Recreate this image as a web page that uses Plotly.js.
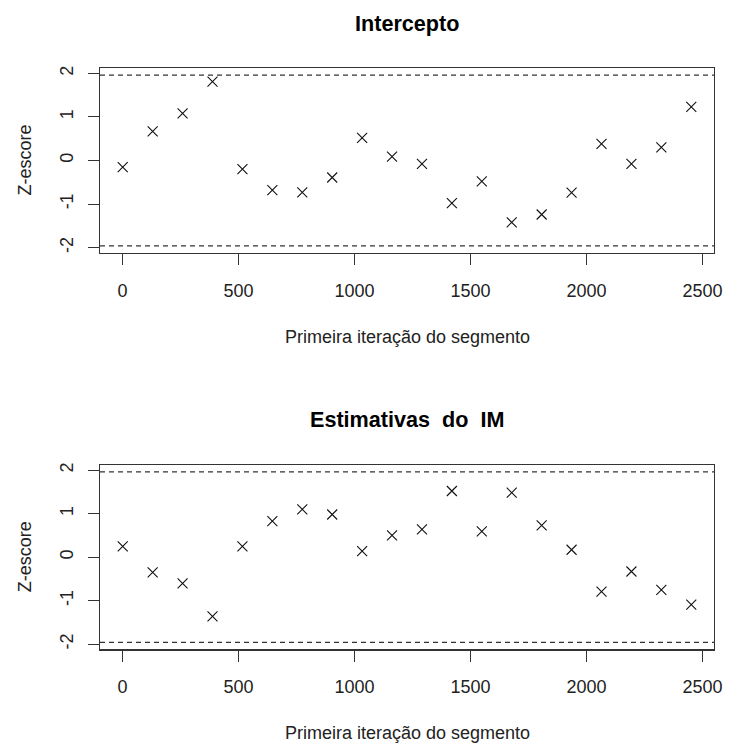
<!DOCTYPE html>
<html>
<head>
<meta charset="utf-8">
<script src="https://cdn.plot.ly/plotly-3.0.1.min.js"></script>
<style>
  html, body { margin: 0; padding: 0; background: #fff; }
  #chart { width: 729px; height: 746px; }
</style>
</head>
<body>
<div id="chart"></div>
<script>
// First iteration of each segment (Geweke diagnostic, 20 bins)
const iterations = [1, 130, 259, 388, 517, 646, 775, 904, 1033, 1162,
                    1291, 1420, 1549, 1678, 1807, 1936, 2065, 2194, 2323, 2452];

// Z-scores for the intercept
const zIntercept = [-0.15, 0.67, 1.08, 1.81, -0.20, -0.68, -0.73, -0.39, 0.52, 0.09,
                    -0.08, -0.98, -0.48, -1.42, -1.24, -0.74, 0.38, -0.08, 0.30, 1.23];

// Z-scores for the IM estimates
const zIM = [0.25, -0.35, -0.60, -1.36, 0.25, 0.83, 1.10, 0.98, 0.14, 0.50,
             0.64, 1.52, 0.59, 1.48, 0.73, 0.17, -0.79, -0.33, -0.75, -1.09];

const panelTitles = ['Intercepto', 'Estimativas\u00a0 do\u00a0 IM'];
const xTitle = 'Primeira iteração do segmento';
const yTitle = 'Z-escore';
const xTicks = [0, 500, 1000, 1500, 2000, 2500];
const yTicks = [-2, -1, 0, 1, 2];
const zLimit = 1.96;

const W = 729, H = 746;
const FONT = 'Liberation Sans, Arial, sans-serif';
const TXT = '#222';

// plot boxes in pixels (left, right, top, bottom)
const boxL = 100, boxR = 714;
const boxes = [[68.3, 252.7], [465, 649.3]];

const px = v => v / W;
const py = v => (H - v) / H;

function marks(y, xa, ya) {
  return {
    x: iterations, y: y, xaxis: xa, yaxis: ya,
    type: 'scatter', mode: 'markers', hoverinfo: 'x+y',
    marker: { symbol: 'x-thin-open', size: 10, color: '#111',
              line: { width: 1.1, color: '#111' } }
  };
}

function xAxis(i, anchor) {
  return {
    domain: [px(boxL), px(boxR)], anchor: anchor,
    range: [-97, 2550], tickvals: xTicks, ticktext: xTicks.map(String),
    ticks: 'outside', ticklen: 11, tickwidth: 1, tickcolor: '#333',
    ticklabelstandoff: 10,
    showline: true, linecolor: '#333', linewidth: 1.2, mirror: true,
    showgrid: false, zeroline: false,
    tickfont: { family: FONT, size: 18, color: TXT }
  };
}

function yAxis(i, anchor) {
  const b = boxes[i];
  return {
    domain: [py(b[1]), py(b[0])], anchor: anchor,
    range: [-2.117, 2.117], tickvals: yTicks, ticktext: yTicks.map(String),
    tickangle: -90,
    ticks: 'outside', ticklen: 11, tickwidth: 1, tickcolor: '#333',
    ticklabelstandoff: 8,
    showline: true, linecolor: '#333', linewidth: 1.2, mirror: true,
    showgrid: false, zeroline: false,
    tickfont: { family: FONT, size: 18, color: TXT }
  };
}

function limitLine(yref, xref, v) {
  return {
    type: 'line', xref: xref + ' domain', yref: yref,
    x0: 0, x1: 1, y0: v, y1: v,
    line: { color: '#333', width: 1.2, dash: '5px,4px' }
  };
}

const data = [marks(zIntercept, 'x', 'y'), marks(zIM, 'x2', 'y2')];

const annotations = [];
boxes.forEach((b, i) => {
  const cx = px((boxL + boxR) / 2);
  annotations.push({
    text: '<b>' + panelTitles[i] + '</b>', xref: 'paper', yref: 'paper',
    x: cx, y: py(b[0] - 45), xanchor: 'center', yanchor: 'middle',
    showarrow: false, font: { family: FONT, size: 21.6, color: '#000' }
  });
  annotations.push({
    text: xTitle, xref: 'paper', yref: 'paper',
    x: cx, y: py(b[1] + 84), xanchor: 'center', yanchor: 'middle',
    showarrow: false, font: { family: FONT, size: 18, color: TXT }
  });
  annotations.push({
    text: yTitle, xref: 'paper', yref: 'paper', textangle: -90,
    x: px(25), y: py((b[0] + b[1]) / 2), xanchor: 'center', yanchor: 'middle',
    showarrow: false, font: { family: FONT, size: 18, color: TXT }
  });
});

const layout = {
  width: W, height: H,
  margin: { l: 0, r: 0, t: 0, b: 0 },
  paper_bgcolor: '#fff', plot_bgcolor: '#fff',
  showlegend: false,
  xaxis: xAxis(0, 'y'), yaxis: yAxis(0, 'x'),
  xaxis2: xAxis(1, 'y2'), yaxis2: yAxis(1, 'x2'),
  shapes: [
    limitLine('y', 'x', zLimit), limitLine('y', 'x', -zLimit),
    limitLine('y2', 'x2', zLimit), limitLine('y2', 'x2', -zLimit)
  ],
  annotations: annotations
};

Plotly.newPlot('chart', data, layout, { displayModeBar: false, staticPlot: true });
</script>
</body>
</html>
